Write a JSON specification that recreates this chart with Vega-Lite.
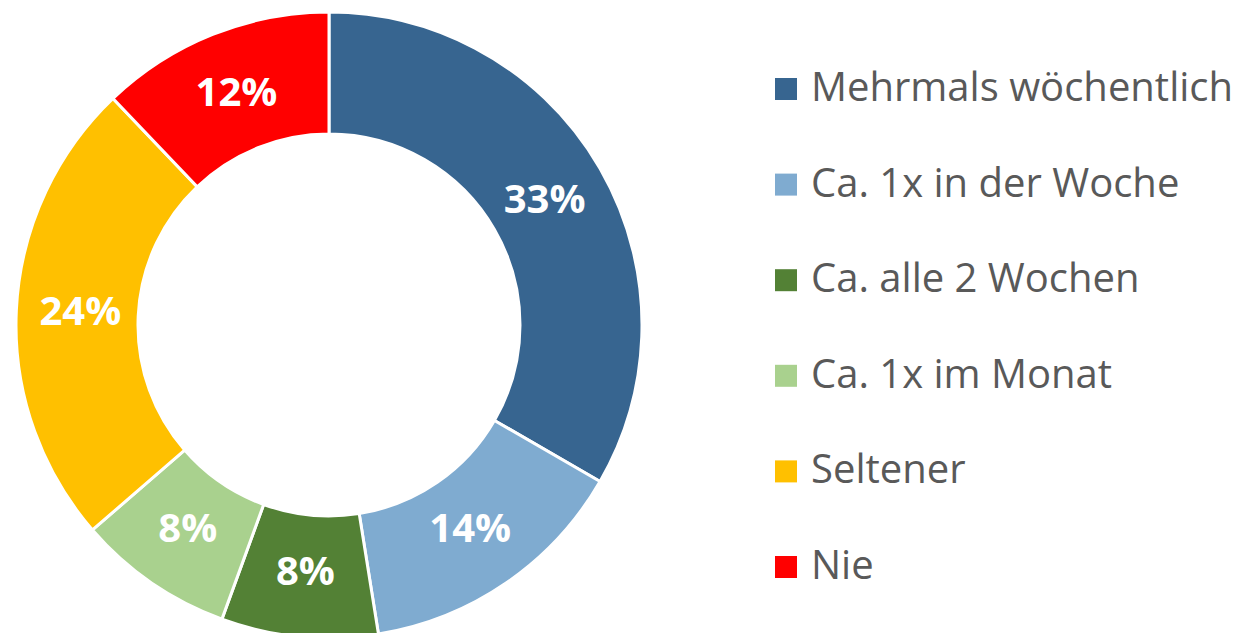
{
  "$schema": "https://vega.github.io/schema/vega-lite/v6.json",
  "width": 658,
  "height": 616,
  "padding": {"left": 0, "top": 17, "right": 579, "bottom": 0},
  "autosize": {"type": "none"},
  "background": "white",
  "config": {"view": {"stroke": null}},
  "data": {"values": [
    {"kategorie": "Mehrmals wöchentlich", "anteil": 33, "label": "33%", "ord": 1},
    {"kategorie": "Ca. 1x in der Woche", "anteil": 14, "label": "14%", "ord": 2},
    {"kategorie": "Ca. alle 2 Wochen", "anteil": 8, "label": "8%", "ord": 3},
    {"kategorie": "Ca. 1x im Monat", "anteil": 8, "label": "8%", "ord": 4},
    {"kategorie": "Seltener", "anteil": 24, "label": "24%", "ord": 5},
    {"kategorie": "Nie", "anteil": 12, "label": "12%", "ord": 6}
  ]},
  "encoding": {
    "theta": {"field": "anteil", "type": "quantitative", "stack": true},
    "order": {"field": "ord", "type": "quantitative"},
    "color": {
      "field": "kategorie", "type": "nominal",
      "scale": {
        "domain": ["Mehrmals wöchentlich", "Ca. 1x in der Woche", "Ca. alle 2 Wochen", "Ca. 1x im Monat", "Seltener", "Nie"],
        "range": ["#376590", "#7fabd0", "#538135", "#a9d18e", "#ffc000", "#ff0000"]
      },
      "legend": {
        "title": null,
        "orient": "none",
        "legendX": 766,
        "legendY": 52,
        "symbolType": "square",
        "symbolSize": 484,
        "symbolStrokeWidth": 0,
        "labelFontSize": 40,
        "labelFont": "Open Sans",
        "labelColor": "#595959",
        "labelOffset": 5,
        "rowPadding": 55.6,
        "labelLimit": 600
      }
    }
  },
  "layer": [
    {
      "mark": {"type": "arc", "outerRadius": 313, "innerRadius": 191, "stroke": "white", "strokeWidth": 3}
    },
    {
      "mark": {"type": "text", "radius": 249, "fontSize": 40, "fontWeight": "bold", "font": "Open Sans"},
      "encoding": {
        "text": {"field": "label", "type": "nominal"},
        "color": {"value": "white"}
      }
    }
  ]
}
